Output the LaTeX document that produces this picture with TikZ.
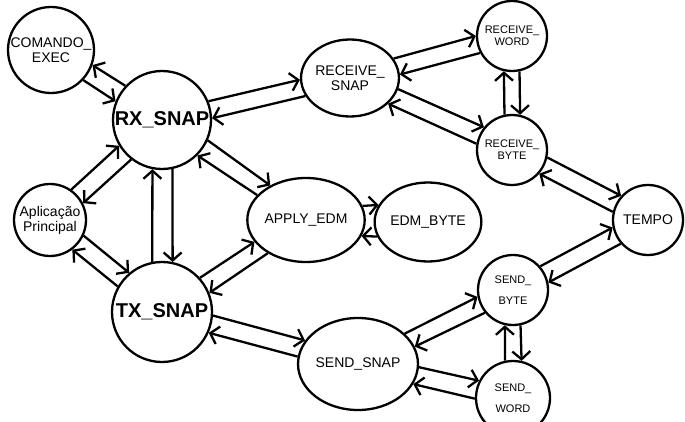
\documentclass[tikz,border=0pt]{standalone}
\usepackage{fontspec}
\setmainfont{Liberation Sans}
\usetikzlibrary{arrows.meta,shapes.geometric,calc}

\newcommand{\ligar}[3][9]{%
	\draw[seta] let \p1=(#2.center), \p2=(#3.center), \p3=(#2.east), \p4=(#3.east),
		\n1={atan2(\y2-\y1,\x2-\x1)}, \n2={asin(#1/(\x3-\x1))}, \n3={asin(#1/(\x4-\x2))},
		\n4={\n1+\n2}, \n5={\n1+180-\n3} in (#2.\n4) -- (#3.\n5);
	\draw[seta] let \p1=(#2.center), \p2=(#3.center), \p3=(#2.east), \p4=(#3.east),
		\n1={atan2(\y2-\y1,\x2-\x1)}, \n2={asin(#1/(\x3-\x1))}, \n3={asin(#1/(\x4-\x2))},
		\n6={\n1+180+\n3}, \n7={\n1-\n2} in (#3.\n6) -- (#2.\n7);
}

\begin{document}
\begin{tikzpicture}[x=1pt, y=-1pt,
	estado/.style={draw, circle, line width=2.3pt, inner sep=0pt, align=center, font=\fontsize{14}{15}\selectfont},
	oval/.style={estado, ellipse},
	pequeno/.style={font=\fontsize{11}{12}\selectfont},
	espacado/.style={font=\fontsize{11}{21}\selectfont},
	grande/.style={font=\fontsize{20}{22}\selectfont\bfseries},
	seta/.style={line width=2.3pt, -{Straight Barb[length=8pt,width=18pt]}}]
	\clip (0,0) rectangle (685,422);
	\node[estado, minimum size=86pt] (comando) at (51,50) {COMANDO\_\\EXEC};
	\node[estado, grande, minimum size=98pt] (rx) at (162,120) {RX\_SNAP};
	\node[estado, minimum size=72pt] (aplic) at (50,220) {Aplicação\\Principal};
	\node[estado, grande, minimum size=100pt] (tx) at (162,312) {TX\_SNAP};
	\node[oval, minimum width=80pt, minimum height=77pt] (rsnap) at (350,78) {RECEIVE\_\\SNAP};
	\node[estado, pequeno, minimum size=70pt] (rword) at (512,36) {RECEIVE\_\\WORD};
	\node[estado, pequeno, minimum size=70pt] (rbyte) at (512,150) {RECEIVE\_\\BYTE};
	\node[oval, minimum width=96pt, minimum height=84pt] (apply) at (306,220) {APPLY\_EDM};
	\node[oval, minimum width=90pt, minimum height=79pt] (edm) at (428,222) {EDM\_BYTE};
	\node[estado, minimum size=70pt] (tempo) at (648,220) {TEMPO};
	\node[estado, espacado, minimum size=70pt] (sbyte) at (513,290) {SEND\_\\BYTE};
	\node[oval, minimum width=106pt, minimum height=92pt] (ssnap) at (358,364) {SEND\_SNAP};
	\node[estado, espacado, minimum size=74pt] (sword) at (513,398) {SEND\_\\WORD};

	\ligar[-9]{comando}{rx}
	\ligar{rx}{rsnap}
	\ligar{rsnap}{rword}
	\ligar{rsnap}{rbyte}
	\ligar[8]{rbyte}{rword}
	\ligar{rbyte}{tempo}
	\ligar{sbyte}{tempo}
	\ligar[8]{sword}{sbyte}
	\ligar{ssnap}{sbyte}
	\ligar{ssnap}{sword}
	\ligar{tx}{ssnap}
	\ligar{tx}{apply}
	\ligar{rx}{apply}
	\ligar[16]{apply}{edm}
	\ligar[10]{rx}{tx}
	\ligar{aplic}{rx}
	\ligar{aplic}{tx}
\end{tikzpicture}
\end{document}
